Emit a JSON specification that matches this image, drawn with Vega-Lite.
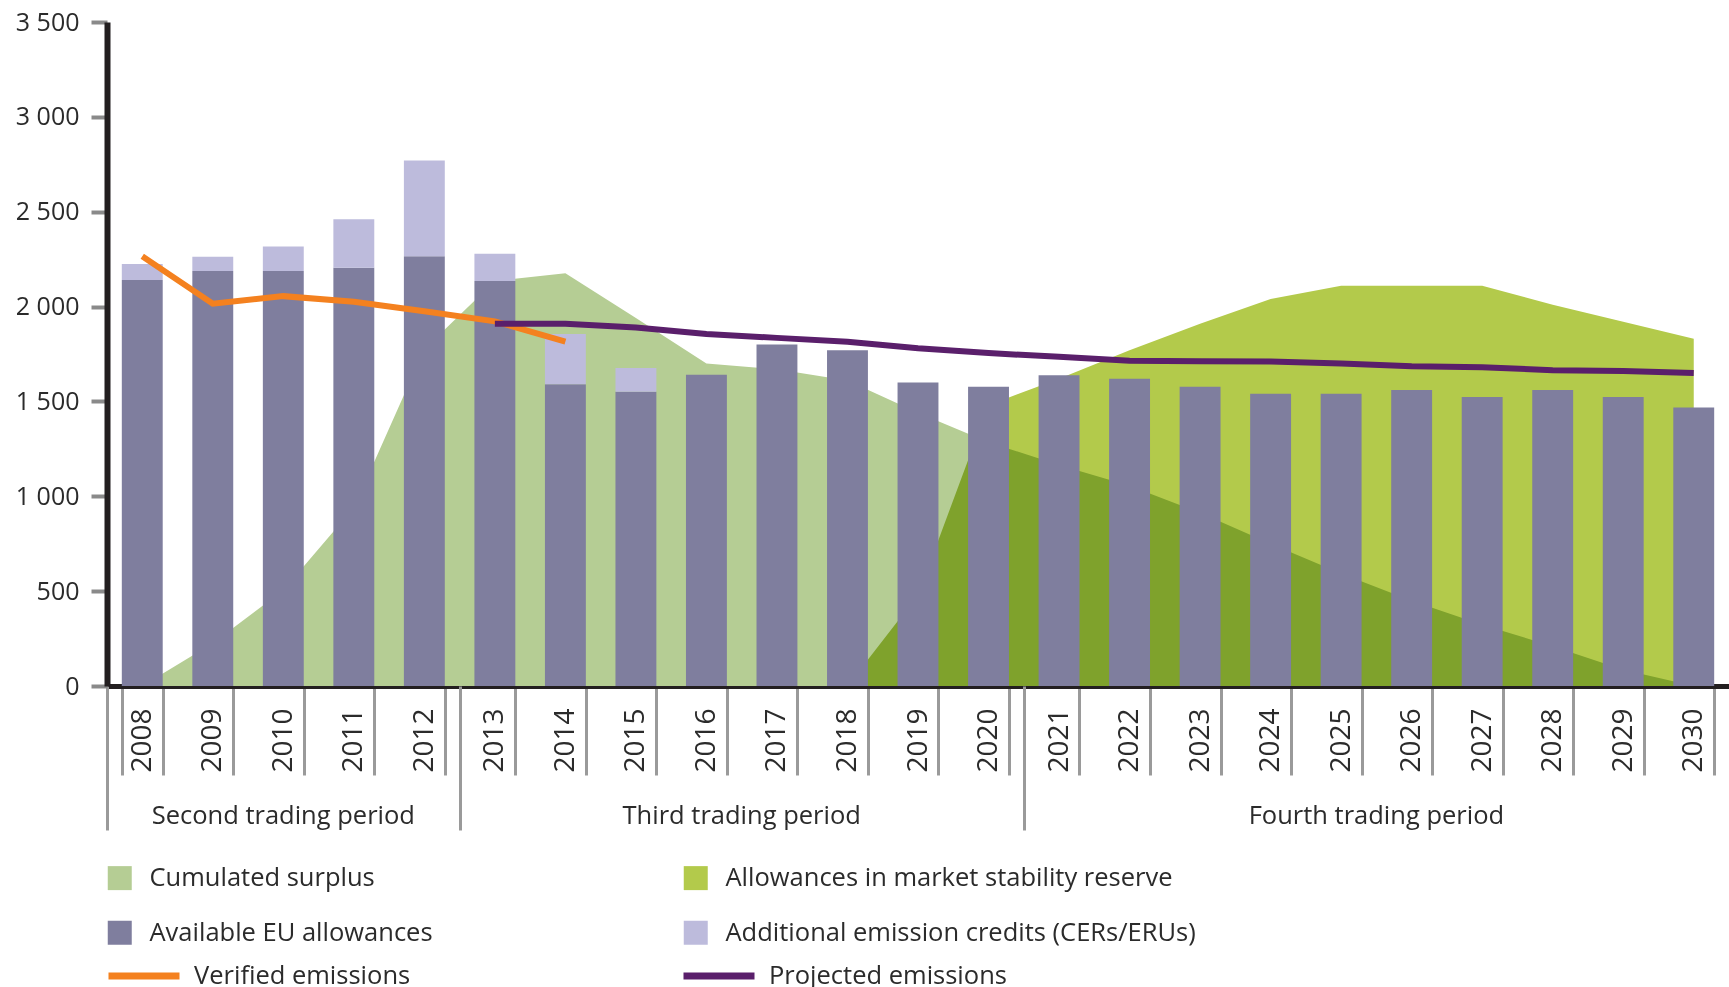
{
  "$schema": "https://vega.github.io/schema/vega-lite/v6.json",
  "width": 1622,
  "height": 664,
  "autosize": {"type": "none"},
  "padding": {"left": 107, "top": 22, "right": 0, "bottom": 301},
  "background": "white",
  "config": {
    "view": {"stroke": null},
    "font": "Open Sans",
    "axis": {"labelFont": "Open Sans", "labelColor": "#2b2b2b", "grid": false, "title": null},
    "legend": {"labelFont": "Open Sans", "labelColor": "#2b2b2b", "labelLimit": 800, "padding": 0, "titlePadding": 0}
  },
  "datasets": {
    "years": [
      {"year": 2008, "eua": 2140, "total": 2225, "surplus": 0, "verified": 2265},
      {"year": 2009, "eua": 2187, "total": 2263, "surplus": 225, "verified": 2015},
      {"year": 2010, "eua": 2187, "total": 2316, "surplus": 505, "verified": 2055},
      {"year": 2011, "eua": 2205, "total": 2460, "surplus": 940, "verified": 2025},
      {"year": 2012, "eua": 2265, "total": 2770, "surplus": 1775, "verified": 1975},
      {"year": 2013, "eua": 2135, "total": 2278, "surplus": 2135, "verified": 1922, "projected": 1910},
      {"year": 2014, "eua": 1590, "total": 1855, "surplus": 2175, "verified": 1815, "projected": 1910},
      {"year": 2015, "eua": 1551, "total": 1676, "surplus": 1940, "projected": 1890},
      {"year": 2016, "eua": 1640, "surplus": 1700, "projected": 1855},
      {"year": 2017, "eua": 1800, "surplus": 1670, "projected": 1835},
      {"year": 2018, "eua": 1770, "surplus": 1610, "msr": 0, "projected": 1815},
      {"year": 2019, "eua": 1600, "surplus": 1440, "msr": 480, "projected": 1780},
      {"year": 2020, "eua": 1577, "surplus": 1285, "msr": 1480, "projected": 1755},
      {"year": 2021, "eua": 1638, "surplus": 1165, "msr": 1620, "projected": 1735},
      {"year": 2022, "eua": 1620, "surplus": 1055, "msr": 1770, "projected": 1715},
      {"year": 2023, "eua": 1578, "surplus": 913, "msr": 1910, "projected": 1712},
      {"year": 2024, "eua": 1540, "surplus": 750, "msr": 2040, "projected": 1710},
      {"year": 2025, "eua": 1540, "surplus": 593, "msr": 2110, "projected": 1700},
      {"year": 2026, "eua": 1560, "surplus": 450, "msr": 2110, "projected": 1685},
      {"year": 2027, "eua": 1523, "surplus": 323, "msr": 2110, "projected": 1680},
      {"year": 2028, "eua": 1560, "surplus": 210, "msr": 2010, "projected": 1665},
      {"year": 2029, "eua": 1523, "surplus": 85, "msr": 1920, "projected": 1660},
      {"year": 2030, "eua": 1468, "surplus": 0, "msr": 1830, "projected": 1650}
    ],
    "periods": [
      {"period": "Second trading period", "start": 2007.5, "mid": 2010},
      {"period": "Third trading period", "start": 2012.5, "mid": 2016.5},
      {"period": "Fourth trading period", "start": 2020.5, "mid": 2025.5}
    ]
  },
  "layer": [
    {
      "data": {"name": "years"},
      "layer": [
        {
          "mark": {"type": "area", "line": false},
          "encoding": {
            "x": {"field": "year", "type": "ordinal", "bandPosition": 0.5,
                  "scale": {"type": "band", "paddingInner": 0.42, "paddingOuter": 0.21},
                  "axis": {"orient": "bottom", "labelAngle": 270, "labelAlign": "right", "labelBaseline": "middle",
                           "labelFontSize": 28, "tickBand": "extent", "tickSize": 89, "tickWidth": 3, "tickColor": "#9a9a9a",
                           "labelPadding": -67, "domainColor": "#231f20", "domainWidth": 5}},
            "y": {"field": "surplus", "type": "quantitative",
                  "scale": {"domain": [0, 3500], "nice": false},
                  "axis": {"values": [0, 500, 1000, 1500, 2000, 2500, 3000, 3500],
                           "labelExpr": "replace(format(datum.value, ','), ',', ' ')",
                           "labelFontSize": 25, "tickSize": 16, "tickWidth": 4, "tickColor": "#8a8a8a",
                           "labelPadding": 12, "domainColor": "#231f20", "domainWidth": 6}},
            "fill": {"datum": "Cumulated surplus", "type": "nominal",
                     "scale": {"domain": ["Cumulated surplus", "Allowances in market stability reserve", "Available EU allowances", "Additional emission credits (CERs/ERUs)"],
                               "range": ["#b5cd94", "#b3ca4b", "#7f7e9e", "#bdbbdc"]},
                     "legend": {"orient": "none", "legendX": 0, "legendY": 843, "direction": "horizontal", "columns": 2,
                                "columnPadding": 250, "rowPadding": 28, "symbolType": "square", "symbolSize": 576,
                                "symbolStrokeWidth": 0, "labelFontSize": 25.5, "labelOffset": 17, "title": null}}
          }
        },
        {
          "transform": [{"filter": "isValid(datum.msr)"}],
          "mark": {"type": "area", "line": false, "blend": "multiply"},
          "encoding": {
            "x": {"field": "year", "type": "ordinal", "bandPosition": 0.5},
            "y": {"field": "msr", "type": "quantitative"},
            "fill": {"datum": "Allowances in market stability reserve", "type": "nominal"}
          }
        },
        {
          "mark": {"type": "bar"},
          "encoding": {
            "x": {"field": "year", "type": "ordinal"},
            "y": {"field": "eua", "type": "quantitative"},
            "fill": {"datum": "Available EU allowances", "type": "nominal"}
          }
        },
        {
          "transform": [{"filter": "isValid(datum.total)"}],
          "mark": {"type": "bar"},
          "encoding": {
            "x": {"field": "year", "type": "ordinal"},
            "y": {"field": "eua", "type": "quantitative"},
            "y2": {"field": "total"},
            "fill": {"datum": "Additional emission credits (CERs/ERUs)", "type": "nominal"}
          }
        },
        {
          "transform": [{"filter": "isValid(datum.verified)"}],
          "mark": {"type": "line", "strokeWidth": 6},
          "encoding": {
            "x": {"field": "year", "type": "ordinal", "bandPosition": 0.5},
            "y": {"field": "verified", "type": "quantitative"},
            "stroke": {"datum": "Verified emissions", "type": "nominal",
                       "scale": {"domain": ["Verified emissions", "Projected emissions"], "range": ["#f4811f", "#5a1f6b"]},
                       "legend": {"orient": "none", "legendX": -2, "legendY": 915, "direction": "horizontal", "columns": 2,
                                  "columnPadding": 258, "symbolType": "stroke", "symbolSize": 5041, "symbolStrokeWidth": 7,
                                  "labelFontSize": 25.5, "labelOffset": 11, "title": null}}
          }
        },
        {
          "transform": [{"filter": "isValid(datum.projected)"}],
          "mark": {"type": "line", "strokeWidth": 6},
          "encoding": {
            "x": {"field": "year", "type": "ordinal", "bandPosition": 0.5},
            "y": {"field": "projected", "type": "quantitative"},
            "stroke": {"datum": "Projected emissions", "type": "nominal"}
          }
        }
      ]
    },
    {
      "data": {"name": "periods"},
      "mark": {"type": "text", "y": "height", "dy": 130, "baseline": "middle", "align": "center", "fontSize": 25.5, "font": "Open Sans", "color": "#2b2b2b"},
      "encoding": {
        "x": {"field": "mid", "type": "quantitative",
              "scale": {"domain": [2007.5, 2030.5], "nice": false, "zero": false},
              "axis": {"orient": "bottom", "values": [2007.5, 2012.5, 2020.5], "labels": false, "domain": false,
                       "tickSize": 144, "tickWidth": 3, "tickColor": "#9a9a9a", "grid": false}},
        "text": {"field": "period"}
      }
    }
  ],
  "resolve": {"scale": {"x": "independent"}, "axis": {"x": "independent"}}
}
